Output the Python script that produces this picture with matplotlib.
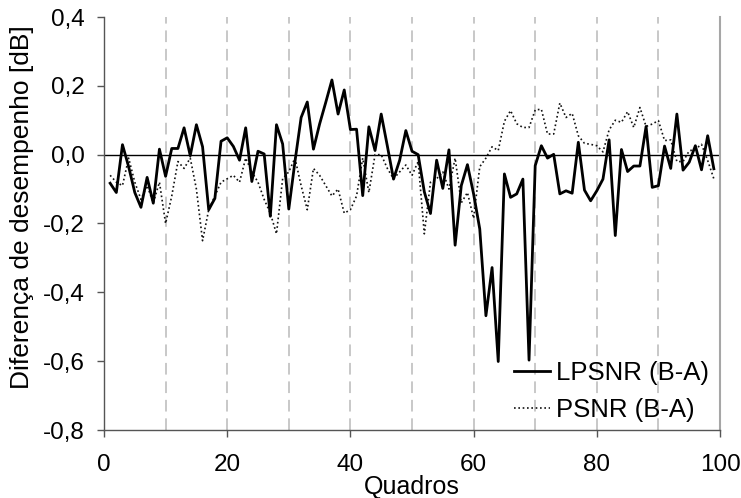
import matplotlib
matplotlib.use('Agg')
import matplotlib.pyplot as plt
from matplotlib.ticker import FixedLocator, FixedFormatter

plt.rcParams['font.family'] = ['Liberation Sans', 'DejaVu Sans']

frames = list(range(1, 100))

lpsnr = [-0.083, -0.110, 0.029, -0.035, -0.110, -0.153, -0.066, -0.141, 0.016, -0.063,
         0.018, 0.018, 0.078, -0.003, 0.087, 0.023, -0.160, -0.127, 0.039, 0.049,
         0.024, -0.016, 0.078, -0.078, 0.010, 0.002, -0.179, 0.087, 0.031, -0.158,
         -0.020, 0.108, 0.153, 0.016, 0.089, 0.152, 0.217, 0.118, 0.188, 0.073,
         0.074, -0.119, 0.081, 0.012, 0.118, 0.025, -0.071, -0.016, 0.070, 0.010,
         0.000, -0.108, -0.171, -0.016, -0.098, 0.014, -0.263, -0.090, -0.029, -0.114,
         -0.216, -0.468, -0.328, -0.601, -0.056, -0.124, -0.114, -0.071, -0.597, -0.032,
         0.026, -0.010, 0.001, -0.114, -0.105, -0.112, 0.036, -0.103, -0.134, -0.105,
         -0.071, 0.043, -0.235, 0.015, -0.049, -0.033, -0.033, 0.082, -0.095, -0.090,
         0.025, -0.040, 0.118, -0.045, -0.022, 0.026, -0.044, 0.055, -0.041]

psnr = [-0.060, -0.080, -0.090, -0.010, -0.080, -0.130, -0.090, -0.140, -0.080, -0.200,
        -0.120, -0.020, -0.040, -0.010, -0.100, -0.250, -0.160, -0.120, -0.080, -0.070,
        -0.060, -0.080, -0.010, -0.050, -0.080, -0.130, -0.170, -0.230, -0.070, -0.050,
        -0.010, -0.090, -0.160, -0.040, -0.060, -0.090, -0.120, -0.100, -0.170, -0.160,
        -0.120, -0.010, -0.110, 0.000, 0.000, -0.040, -0.070, -0.050, -0.030, -0.060,
        -0.020, -0.230, -0.080, -0.070, -0.050, -0.100, -0.010, -0.140, -0.110, -0.185,
        -0.035, -0.010, 0.023, 0.012, 0.097, 0.128, 0.090, 0.079, 0.079, 0.130,
        0.132, 0.060, 0.060, 0.150, 0.108, 0.120, 0.055, 0.033, 0.030, 0.026,
        0.008, 0.072, 0.100, 0.094, 0.125, 0.079, 0.137, 0.082, 0.089, 0.099,
        0.041, 0.043, -0.020, -0.020, 0.011, 0.016, 0.030, -0.017, -0.070]

series_labels = ['LPSNR (B-A)', 'PSNR (B-A)']
x_ticks = [0, 20, 40, 60, 80, 100]
x_tick_labels = ['0', '20', '40', '60', '80', '100']
y_ticks = [-0.8, -0.6, -0.4, -0.2, 0.0, 0.2, 0.4]
y_tick_labels = ['-0,8', '-0,6', '-0,4', '-0,2', '0,0', '0,2', '0,4']
grid_x = [10, 20, 30, 40, 50, 60, 70, 80, 90]
x_label = 'Quadros'
y_label = 'Diferença de desempenho [dB]'

fig = plt.figure(figsize=(7.41, 4.98), dpi=100)
ax = fig.add_axes([104 / 741, 1 - 430 / 498, 616 / 741, 413 / 498])

for g in grid_x:
    ax.axvline(g, color='#c8c8c8', lw=1.4, ls=(0, (6, 3.5)), zorder=0)
ax.axhline(0, color='black', lw=1.0, zorder=1)

ax.plot(frames, psnr, color='#111111', lw=1.2, ls=(0, (1, 1.6)), label=series_labels[1], zorder=2)
ax.plot(frames, lpsnr, color='black', lw=2.0, label=series_labels[0], zorder=3)

ax.set_xlim(0, 100)
ax.set_ylim(-0.8, 0.4)
ax.xaxis.set_major_locator(FixedLocator(x_ticks))
ax.xaxis.set_major_formatter(FixedFormatter(x_tick_labels))
ax.yaxis.set_major_locator(FixedLocator(y_ticks))
ax.yaxis.set_major_formatter(FixedFormatter(y_tick_labels))

ax.spines['top'].set_visible(False)
ax.spines['right'].set_color('#a6a6a6')
ax.spines['right'].set_linewidth(1.5)
ax.spines['left'].set_color('#555555')
ax.spines['bottom'].set_color('#555555')
ax.spines['left'].set_linewidth(1.0)
ax.spines['bottom'].set_linewidth(1.0)

ax.tick_params(axis='x', direction='out', length=5, width=1, color='#555555', pad=12, labelsize=17.5)
ax.tick_params(axis='y', direction='out', length=5, width=1, color='#555555', pad=9, labelsize=17.5)

ax.set_xlabel(x_label, fontsize=18)
ax.set_ylabel(y_label, fontsize=19)
ax.xaxis.set_label_coords(0.5, -0.108)
ax.yaxis.set_label_coords(-0.114, 0.54)

handles, labels = ax.get_legend_handles_labels()
order = [1, 0]
ax.legend([handles[i] for i in order], [labels[i] for i in order],
          loc='lower right', bbox_to_anchor=(0.982, 0.02), frameon=False,
          fontsize=18.5, handlelength=1.4, handletextpad=0.23, labelspacing=0.5,
          borderpad=0, borderaxespad=0)

fig.savefig('out.png', dpi=100)
